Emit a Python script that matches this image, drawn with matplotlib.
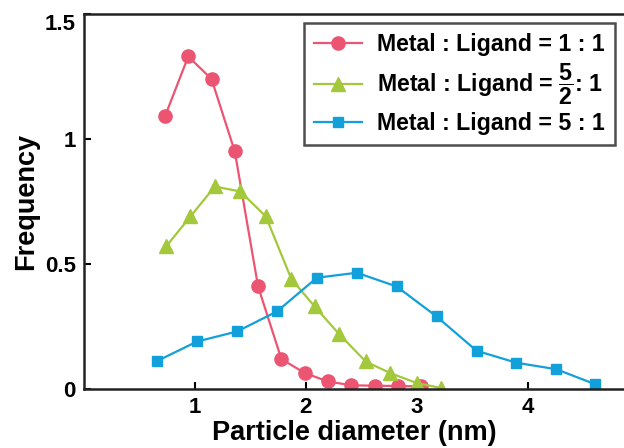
import matplotlib
matplotlib.use("Agg")
import matplotlib.pyplot as plt

plt.rcParams['font.family'] = ['Liberation Sans', 'DejaVu Sans']
plt.rcParams['font.weight'] = 'bold'
plt.rcParams['mathtext.fontset'] = 'custom'
plt.rcParams['mathtext.rm'] = 'Liberation Sans:bold'
plt.rcParams['mathtext.bf'] = 'Liberation Sans:bold'
plt.rcParams['mathtext.it'] = 'Liberation Sans:bold'

# Data
x_11 = [0.73, 0.94, 1.15, 1.36, 1.57, 1.78, 1.99, 2.20, 2.41, 2.62, 2.83, 3.04]
y_11 = [1.09, 1.33, 1.24, 0.95, 0.41, 0.12, 0.064, 0.03, 0.015, 0.013, 0.012, 0.01]

x_52 = [0.74, 0.96, 1.18, 1.41, 1.64, 1.87, 2.08, 2.30, 2.54, 2.76, 3.00, 3.22]
y_52 = [0.57, 0.69, 0.81, 0.79, 0.69, 0.44, 0.33, 0.22, 0.11, 0.064, 0.024, 0.004]

x_51 = [0.66, 1.02, 1.38, 1.74, 2.10, 2.46, 2.82, 3.18, 3.54, 3.90, 4.26, 4.61]
y_51 = [0.112, 0.19, 0.23, 0.31, 0.445, 0.465, 0.41, 0.29, 0.153, 0.105, 0.079, 0.019]

labels = ['Metal : Ligand = 1 : 1',
          r'Metal : Ligand = $\dfrac{5}{2}$: 1',
          'Metal : Ligand = 5 : 1']
xticks = [1, 2, 3, 4]
yticks = [0, 0.5, 1, 1.5]
yticklabels = ['0', '0.5', '1', '1.5']

fig = plt.figure(figsize=(6.24, 4.48), dpi=100)
ax = fig.add_axes([0.1346, 0.1317, 0.8654, 0.8371])

red = '#EC5572'
green = '#A3C83C'
blue = '#12A0DB'

ax.plot(x_11, y_11, '-o', color=red, lw=1.6, ms=9.5, label=labels[0])
ax.plot(x_52, y_52, '-^', color=green, lw=1.6, ms=9.5, label=labels[1])
ax.plot(x_51, y_51, '-s', color=blue, lw=1.6, ms=7.5, label=labels[2])

ax.set_xlim(0, 4.87)
ax.set_ylim(0, 1.5)
ax.set_xticks(xticks)
ax.set_yticks(yticks)
ax.set_yticklabels(yticklabels)
ax.tick_params(direction='in', length=5, width=1.5, labelsize=16, pad=6)
for lab in ax.get_xticklabels() + ax.get_yticklabels():
    lab.set_fontweight('bold')
ax.get_yticklabels()[-1].set_verticalalignment('top')

ax.spines['right'].set_visible(False)
for s in ['left', 'bottom', 'top']:
    ax.spines[s].set_linewidth(1.8)
    ax.spines[s].set_color('#222222')

ax.set_xlabel('Particle diameter (nm)', fontsize=19.5, fontweight='bold', labelpad=1)
ax.set_ylabel('Frequency', fontsize=19.5, fontweight='bold', labelpad=4)

leg = ax.legend(loc='upper right', bbox_to_anchor=(0.983, 0.975), fontsize=16.7,
                frameon=True, fancybox=False, edgecolor='#222222',
                handlelength=2.1, borderpad=0.42, labelspacing=0.24, handletextpad=0.65,
                borderaxespad=0)
leg.get_frame().set_linewidth(1.8)
for t in leg.get_texts():
    t.set_fontweight('bold')

fig.savefig('out.png', dpi=100)
